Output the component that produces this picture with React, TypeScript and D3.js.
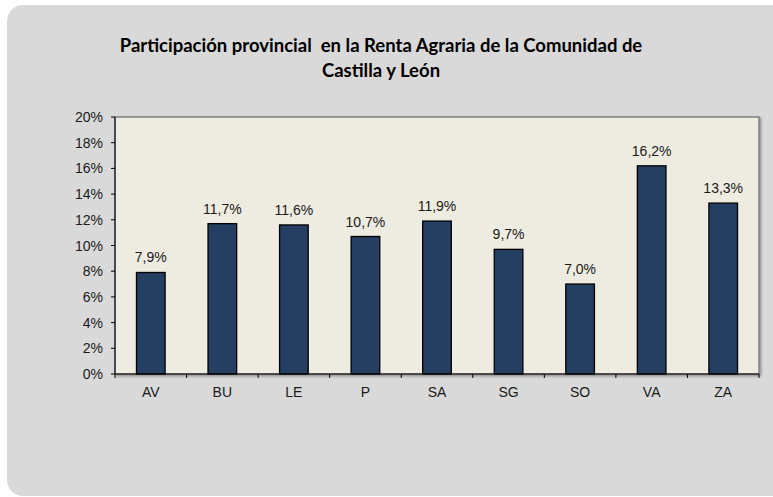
import React from "react";
import * as d3 from "d3";

const categories = ["AV", "BU", "LE", "P", "SA", "SG", "SO", "VA", "ZA"];
const values = [7.9, 11.7, 11.6, 10.7, 11.9, 9.7, 7.0, 16.2, 13.3];
const yTicks = [0, 2, 4, 6, 8, 10, 12, 14, 16, 18, 20];
const titleLines = ["Participación provincial  en la Renta Agraria de la Comunidad de", "Castilla y León"];

export default function App() {
  const W = 773, H = 497;
  const left = 115, right = 759, top = 117, bottom = 374;
  const x = d3.scaleBand<string>().domain(categories).range([left, right]).paddingInner(0.6).paddingOuter(0.3);
  const xb = d3.scaleBand<string>().domain(categories).range([left, right]);
  const y = d3.scaleLinear().domain([0, 20]).range([bottom, top]);
  const fmt = (v: number) => v.toFixed(1).replace(".", ",") + "%";
  return (
    <svg width={W} height={H} style={{ position: "absolute", left: 0, top: 0, background: "#fff" }}>
      <defs>
        <filter id="sh" x="-5%" y="-5%" width="110%" height="110%">
          <feDropShadow dx="1.5" dy="1.5" stdDeviation="1" floodColor="#000" floodOpacity="0.35" />
        </filter>
      </defs>
      <rect x={7} y={5} width={790} height={491} rx={16} fill="#d9d9d9" />
      <g fontFamily="Lato, sans-serif" fontWeight="bold" fontSize={18.5} fill="#000" textAnchor="middle">
        {titleLines.map((t, i) => (
          <text key={i} x={381} y={52 + i * 25} xmlSpace="preserve">{t}</text>
        ))}
      </g>
      <rect x={left} y={top} width={right - left} height={bottom - top} fill="#eeebe0" stroke="#808080" strokeWidth={1.5} filter="url(#sh)" />
      {categories.map((c, i) => (
        <rect key={c} x={x(c)} y={y(values[i])} width={x.bandwidth()} height={bottom - y(values[i])} fill="#243f61" stroke="#000" strokeWidth={1.3} />
      ))}
      <g fontFamily="'Liberation Sans', Arial, sans-serif" fontSize={14} fill="#1a1a1a">
        {categories.map((c, i) => (
          <text key={c} x={(x(c) as number) + x.bandwidth() / 2} y={y(values[i]) - 10} textAnchor="middle">{fmt(values[i])}</text>
        ))}
        {yTicks.map((t) => (
          <g key={t}>
            <line x1={left - 4} x2={left} y1={y(t)} y2={y(t)} stroke="#000" />
            <text x={left - 12} y={y(t) + 5} textAnchor="end">{t + "%"}</text>
          </g>
        ))}
        {categories.map((c) => (
          <g key={c}>
            <line x1={(xb(c) as number) + xb.bandwidth()} x2={(xb(c) as number) + xb.bandwidth()} y1={bottom} y2={bottom + 4} stroke="#000" />
            <text x={(xb(c) as number) + xb.bandwidth() / 2} y={bottom + 23} textAnchor="middle">{c}</text>
          </g>
        ))}
        <line x1={left} x2={left} y1={top} y2={bottom} stroke="#000" />
        <line x1={left} x2={right} y1={bottom} y2={bottom} stroke="#000" />
        <line x1={left} x2={left} y1={bottom} y2={bottom + 4} stroke="#000" />
      </g>
    </svg>
  );
}
